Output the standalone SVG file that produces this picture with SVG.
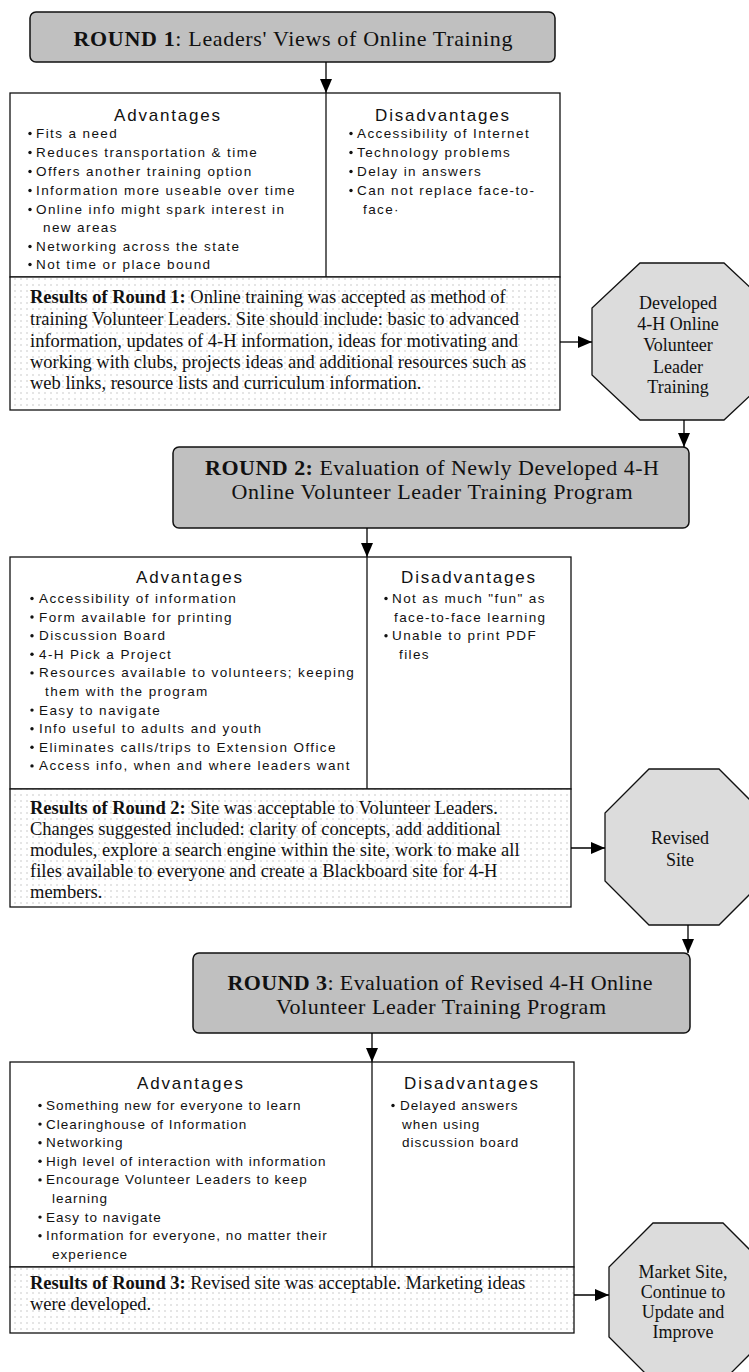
<svg xmlns="http://www.w3.org/2000/svg" width="749" height="1372" viewBox="0 0 749 1372">
<style>
.hdr{fill:#c0c0c0;stroke:#111;stroke-width:1.5}
.tbl{fill:#fff;stroke:#111;stroke-width:1.3}
.res{fill:url(#dots);stroke:#111;stroke-width:1.3}
.oct{fill:#dcdcdc;stroke:#111;stroke-width:1.3}
.ln{stroke:#111;stroke-width:1.3;fill:none}
.con{stroke:#000;stroke-width:1.3;fill:none;marker-end:url(#ah)}
.ht{font-family:"Liberation Serif","Times New Roman",serif;font-size:22px;fill:#111;text-anchor:middle}
.rt{font-family:"Liberation Serif","Times New Roman",serif;font-size:18.5px;fill:#111}
.ot{font-family:"Liberation Serif","Times New Roman",serif;font-size:18px;fill:#111;text-anchor:middle}
.cap{font-family:"Liberation Sans",Arial,sans-serif;font-size:17px;letter-spacing:1.8px;fill:#111;text-anchor:middle}
.bt{font-family:"Liberation Sans",Arial,sans-serif;font-size:13.5px;letter-spacing:1.4px;fill:#111}
.bt3{font-family:"Liberation Sans",Arial,sans-serif;font-size:13.5px;letter-spacing:1px;fill:#111}
.b{font-weight:bold}
.dot{fill:#111}
</style>
<defs>
<pattern id="dots" width="6" height="6" patternUnits="userSpaceOnUse"><rect width="6" height="6" fill="#fff"/><circle cx="3" cy="3" r="0.7" fill="#b8b8b8"/></pattern>
<marker id="ah" markerUnits="userSpaceOnUse" markerWidth="14" markerHeight="12" refX="14" refY="6" orient="auto"><path d="M0,0 L14,6 L0,12 z" fill="#000"/></marker>
</defs>

<!-- ROUND 1 -->
<g id="round1-header">
<rect class="hdr" x="30" y="12" width="525" height="50" rx="6"/>
<text class="ht" x="293" y="46" textLength="439" lengthAdjust="spacing"><tspan class="b">ROUND 1</tspan>:  Leaders' Views of Online Training</text>
</g>
<g id="round1-table">
<rect class="tbl" x="10" y="93" width="550" height="184"/>
<line class="ln" x1="326" y1="93" x2="326" y2="277"/>
<text class="cap" x="168" y="121">Advantages</text>
<text class="cap" x="443" y="121">Disadvantages</text>
<g class="bt">
<circle class="dot" cx="30" cy="133.5" r="1.7"/><text x="36" y="138">Fits a need</text>
<circle class="dot" cx="30" cy="152.5" r="1.7"/><text x="36" y="157">Reduces transportation &amp; time</text>
<circle class="dot" cx="30" cy="171.5" r="1.7"/><text x="36" y="176">Offers  another training option</text>
<circle class="dot" cx="30" cy="190.5" r="1.7"/><text x="36" y="195">Information more useable over time</text>
<circle class="dot" cx="30" cy="209.5" r="1.7"/><text x="36" y="214">Online info  might spark interest in</text>
<text x="43" y="232">new areas</text>
<circle class="dot" cx="30" cy="246.5" r="1.7"/><text x="36" y="251">Networking across the state</text>
<circle class="dot" cx="30" cy="264.5" r="1.7"/><text x="36" y="269">Not time or place bound</text>
<circle class="dot" cx="351" cy="133.5" r="1.7"/><text x="357" y="138">Accessibility of Internet</text>
<circle class="dot" cx="351" cy="152.5" r="1.7"/><text x="357" y="157">Technology problems</text>
<circle class="dot" cx="351" cy="171.5" r="1.7"/><text x="357" y="176">Delay in answers</text>
<circle class="dot" cx="351" cy="190.5" r="1.7"/><text x="357" y="195">Can not replace face-to-</text>
<text x="363" y="214">face·</text>
</g>
</g>
<g id="round1-results">
<rect class="res" x="10" y="277" width="550" height="133"/>
<text class="rt" x="30" y="303"><tspan class="b">Results of Round 1:</tspan> Online training was accepted as method of</text>
<text class="rt" x="30" y="325">training Volunteer Leaders. Site should include: basic to advanced</text>
<text class="rt" x="30" y="347">information, updates of 4-H information, ideas for motivating and</text>
<text class="rt" x="30" y="368">working with clubs, projects ideas and additional resources such as</text>
<text class="rt" x="30" y="389">web links, resource lists and curriculum information.</text>
</g>
<g id="octagon1">
<polygon class="oct" points="640,263 724,263 772,308 772,375 724,420 640,420 592,375 592,308"/>
<text class="ot" x="678" y="309">Developed</text>
<text class="ot" x="678" y="330">4-H Online</text>
<text class="ot" x="678" y="351">Volunteer</text>
<text class="ot" x="678" y="373">Leader</text>
<text class="ot" x="678" y="393">Training</text>
</g>

<!-- ROUND 2 -->
<g id="round2-header">
<rect class="hdr" x="173" y="447" width="516" height="81" rx="6"/>
<text class="ht" x="432" y="475" textLength="454" lengthAdjust="spacing"><tspan class="b">ROUND 2:</tspan> Evaluation of Newly Developed 4-H</text>
<text class="ht" x="432" y="499" textLength="401" lengthAdjust="spacing">Online Volunteer Leader Training Program</text>
</g>
<g id="round2-table">
<rect class="tbl" x="10" y="557" width="561" height="232"/>
<line class="ln" x1="367" y1="557" x2="367" y2="789"/>
<text class="cap" x="190" y="583">Advantages</text>
<text class="cap" x="469" y="583">Disadvantages</text>
<g class="bt">
<circle class="dot" cx="32" cy="598.5" r="1.7"/><text x="39" y="603">Accessibility of information</text>
<circle class="dot" cx="32" cy="617" r="1.7"/><text x="39" y="621.6">Form available for printing</text>
<circle class="dot" cx="32" cy="635.7" r="1.7"/><text x="39" y="640.2">Discussion Board</text>
<circle class="dot" cx="32" cy="654.3" r="1.7"/><text x="39" y="658.8">4-H Pick a Project</text>
<circle class="dot" cx="32" cy="672.9" r="1.7"/><text x="39" y="677.4">Resources available to volunteers; keeping</text>
<text x="45" y="696">them with the program</text>
<circle class="dot" cx="32" cy="710.1" r="1.7"/><text x="39" y="714.6">Easy to navigate</text>
<circle class="dot" cx="32" cy="728.7" r="1.7"/><text x="39" y="733.2">Info useful to adults and youth</text>
<circle class="dot" cx="32" cy="747.3" r="1.7"/><text x="39" y="751.8">Eliminates calls/trips to Extension Office</text>
<circle class="dot" cx="32" cy="765.9" r="1.7"/><text x="39" y="770.4">Access info, when and where leaders want</text>
<circle class="dot" cx="386" cy="598.5" r="1.7"/><text x="392" y="603">Not as much "fun" as</text>
<text x="394" y="621.6">face-to-face learning</text>
<circle class="dot" cx="386" cy="635.7" r="1.7"/><text x="392" y="640.2">Unable to print PDF</text>
<text x="399" y="658.8">files</text>
</g>
</g>
<g id="round2-results">
<rect class="res" x="10" y="789" width="561" height="118"/>
<text class="rt" x="30" y="814"><tspan class="b">Results of Round 2:</tspan> Site was acceptable to Volunteer Leaders.</text>
<text class="rt" x="30" y="835">Changes suggested included: clarity of concepts, add additional</text>
<text class="rt" x="30" y="856">modules, explore a search engine within the site, work to make all</text>
<text class="rt" x="30" y="877">files available to everyone and create a Blackboard site for 4-H</text>
<text class="rt" x="30" y="898">members.</text>
</g>
<g id="octagon2">
<polygon class="oct" points="649,769 719,769 763,813 763,881 719,925 649,925 605,881 605,813"/>
<text class="ot" x="680" y="844">Revised</text>
<text class="ot" x="680" y="866">Site</text>
</g>

<!-- ROUND 3 -->
<g id="round3-header">
<rect class="hdr" x="193" y="953" width="497" height="80" rx="6"/>
<text class="ht" x="440" y="990" textLength="425" lengthAdjust="spacing"><tspan class="b">ROUND 3</tspan>: Evaluation of Revised 4-H Online</text>
<text class="ht" x="441" y="1014" textLength="330" lengthAdjust="spacing">Volunteer Leader Training Program</text>
</g>
<g id="round3-table">
<rect class="tbl" x="10" y="1062" width="564" height="205"/>
<line class="ln" x1="372" y1="1062" x2="372" y2="1267"/>
<text class="cap" x="191" y="1089">Advantages</text>
<text class="cap" x="472" y="1089">Disadvantages</text>
<g class="bt3">
<circle class="dot" cx="40" cy="1105.5" r="1.7"/><text x="46" y="1110">Something new for everyone to learn</text>
<circle class="dot" cx="40" cy="1124.1" r="1.7"/><text x="46" y="1128.6">Clearinghouse of Information</text>
<circle class="dot" cx="40" cy="1142.7" r="1.7"/><text x="46" y="1147.2">Networking</text>
<circle class="dot" cx="40" cy="1161.3" r="1.7"/><text x="46" y="1165.8">High level of interaction with information</text>
<circle class="dot" cx="40" cy="1179.9" r="1.7"/><text x="46" y="1184.4">Encourage Volunteer Leaders to keep</text>
<text x="52" y="1203">learning</text>
<circle class="dot" cx="40" cy="1217.1" r="1.7"/><text x="46" y="1221.6">Easy to navigate</text>
<circle class="dot" cx="40" cy="1235.7" r="1.7"/><text x="46" y="1240.2">Information for everyone, no matter their</text>
<text x="52" y="1258.8">experience</text>
<circle class="dot" cx="393" cy="1105.5" r="1.7"/><text x="400" y="1110">Delayed answers</text>
<text x="402" y="1128.6">when using</text>
<text x="402" y="1147.2">discussion board</text>
</g>
</g>
<g id="round3-results">
<rect class="res" x="10" y="1267" width="564" height="66"/>
<text class="rt" x="30" y="1289"><tspan class="b">Results of Round 3:</tspan> Revised site was acceptable. Marketing ideas</text>
<text class="rt" x="30" y="1310">were developed.</text>
</g>
<g id="octagon3">
<polygon class="oct" points="653,1223 723,1223 767,1267 767,1337 723,1381 653,1381 609,1337 609,1267"/>
<text class="ot" x="683" y="1278">Market Site,</text>
<text class="ot" x="683" y="1298">Continue to</text>
<text class="ot" x="683" y="1318">Update and</text>
<text class="ot" x="683" y="1338">Improve</text>
</g>

<g id="connectors">
<line class="con" x1="326" y1="62" x2="326" y2="93"/>
<line class="con" x1="560" y1="342" x2="592" y2="342"/>
<line class="con" x1="684" y1="420" x2="684" y2="447"/>
<line class="con" x1="367" y1="528" x2="367" y2="557"/>
<line class="con" x1="571" y1="848" x2="605" y2="848"/>
<line class="con" x1="688" y1="925" x2="688" y2="953"/>
<line class="con" x1="372" y1="1033" x2="372" y2="1062"/>
<line class="con" x1="574" y1="1295" x2="609" y2="1295"/>
</g>
</svg>
